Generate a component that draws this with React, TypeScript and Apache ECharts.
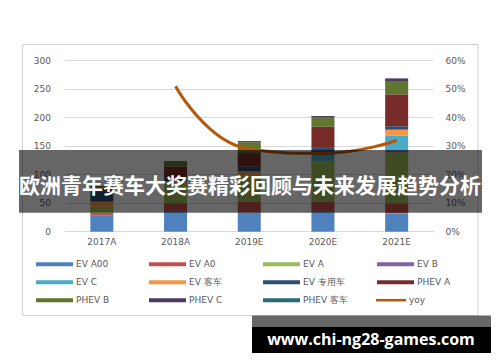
import React, { useEffect, useRef } from "react";
import * as echarts from "echarts";

const categories = ["2017A", "2018A", "2019E", "2020E", "2021E"];
const seriesNames = [
  "EV A00", "EV A0", "EV A", "EV B",
  "EV C", "EV 客车", "EV 专用车", "PHEV A",
  "PHEV B", "PHEV C", "PHEV 客车",
];
const evA00 = [29, 35, 34, 35, 32];
const evA0 = [4, 15, 18, 17, 18];
const evA = [11, 34, 48, 71, 89];
const evB = [0, 0, 0, 0, 4];
const evC = [0, 0, 0, 11, 26];
const evBus = [9, 4, 6, 0, 10];
const evSpecial = [17, 6, 8, 13, 6];
const phevA = [8, 20, 24, 37, 56];
const phevB = [2, 9, 19, 16, 22];
const phevC = [0, 1, 2, 3, 6];
const phevBus = [0, 0, 0, 0, 0];
const yoy = [null, 0.51, 0.29, 0.275, 0.32];
const leftTicks = [0, 300, 50];
const rightTicks = [0, 0.6, 0.1];

const barValues = [evA00, evA0, evA, evB, evC, evBus, evSpecial, phevA, phevB, phevC, phevBus];
const colors = [
  "#4F81BD", "#C0504D", "#9BBB59", "#8064A2", "#4BACC6", "#F79646",
  "#2C4D75", "#772C2A", "#5F7530", "#4D3B62", "#276A7C",
];
const yoyColor = "#B65708";

const FONT = "DejaVu Sans";

export default function App() {
  const ref = useRef<HTMLDivElement>(null);
  useEffect(() => {
    const chart = echarts.init(ref.current!, null, { renderer: "svg" });
    const legendNames = [...seriesNames, "yoy"];
    const colX = [36, 149, 263, 377];
    const rowY = [265.7, 283.7, 301.7];
    const legends = legendNames.map((name, i) => {
      const col = i % 4;
      const row = Math.floor(i / 4);
      const isYoy = name === "yoy";
      return {
        show: true,
        data: [{ name, icon: "rect" }],
        left: isYoy ? 376 : colX[col],
        top: rowY[row] - 6,
        itemWidth: isYoy ? 30 : 37,
        itemHeight: isYoy ? 2.5 : 4,
        itemGap: 0,
        padding: 0,
        selectedMode: false,
        textStyle: {
          fontSize: 9,
          color: "#595959",
          fontFamily: FONT,
          padding: [0, 0, 0, -2],
        },
      };
    });

    const series: any[] = barValues.map((vals, i) => ({
      name: seriesNames[i],
      type: "bar",
      stack: "total",
      yAxisIndex: 0,
      barWidth: 23,
      data: vals,
      itemStyle: { color: colors[i] },
    }));
    series.push({
      name: "yoy",
      type: "line",
      yAxisIndex: 1,
      data: yoy,
      smooth: 0.5,
      symbol: "none",
      lineStyle: { color: yoyColor, width: 3 },
      itemStyle: { color: yoyColor },
      z: 5,
    });

    chart.setOption({
      animation: false,
      backgroundColor: "#ffffff",
      textStyle: { fontFamily: FONT },
      grid: { left: 65, right: 66.5, top: 60.7, bottom: 130.3, containLabel: false },
      legend: legends,
      xAxis: {
        type: "category",
        data: categories,
        axisLine: { show: true, lineStyle: { color: "#D9D9D9", width: 1 } },
        axisTick: { show: false },
        axisLabel: { color: "#595959", fontSize: 9, fontFamily: FONT, margin: 6 },
      },
      yAxis: [
        {
          type: "value",
          min: leftTicks[0],
          max: leftTicks[1],
          interval: leftTicks[2],
          axisLine: { show: false },
          axisTick: { show: false },
          splitLine: { lineStyle: { color: "#D9D9D9", width: 1 } },
          axisLabel: { color: "#595959", fontSize: 9, fontFamily: FONT, margin: 14 },
        },
        {
          type: "value",
          min: rightTicks[0],
          max: rightTicks[1],
          interval: rightTicks[2],
          axisLine: { show: false },
          axisTick: { show: false },
          splitLine: { show: false },
          axisLabel: {
            color: "#595959",
            fontSize: 9,
            fontFamily: FONT,
            margin: 12,
            formatter: (v: number) => `${Math.round(v * 100)}%`,
          },
        },
      ],
      series,
      graphic: [
        {
          type: "rect",
          z: -10,
          silent: true,
          shape: { x: 22.5, y: 44.5, width: 455.5, height: 271 },
          style: { fill: "none", stroke: "#D0D0D0", lineWidth: 1 },
        },
        {
          type: "rect",
          z: 100,
          silent: true,
          shape: { x: 19, y: 150, width: 463, height: 62.7 },
          style: { fill: "rgba(0,0,0,0.6)" },
        },
        {
          type: "text",
          z: 101,
          silent: true,
          x: 250,
          y: 184,
          style: {
            text: "欧洲青年赛车大奖赛精彩回顾与未来发展趋势分析",
            fill: "#ffffff",
            font: "bold 21px 'Noto Sans CJK SC'",
            textAlign: "center",
            textVerticalAlign: "middle",
          },
        },
        {
          type: "rect",
          z: 100,
          silent: true,
          shape: { x: 252, y: 315.5, width: 239, height: 11.5 },
          style: { fill: "#666666" },
        },
        {
          type: "rect",
          z: 100,
          silent: true,
          shape: { x: 252, y: 327, width: 239, height: 26 },
          style: { fill: "#000000" },
        },
        {
          type: "text",
          z: 101,
          silent: true,
          x: 371,
          y: 338.5,
          style: {
            text: "www.chi-ng28-games.com",
            fill: "#ffffff",
            font: "bold 16px 'Open Sans'",
            textAlign: "center",
            textVerticalAlign: "middle",
          },
        },
      ],
    });
    return () => chart.dispose();
  }, []);
  return (
    <div
      ref={ref}
      style={{ position: "absolute", left: 0, top: 0, width: 500, height: 362 }}
    />
  );
}
